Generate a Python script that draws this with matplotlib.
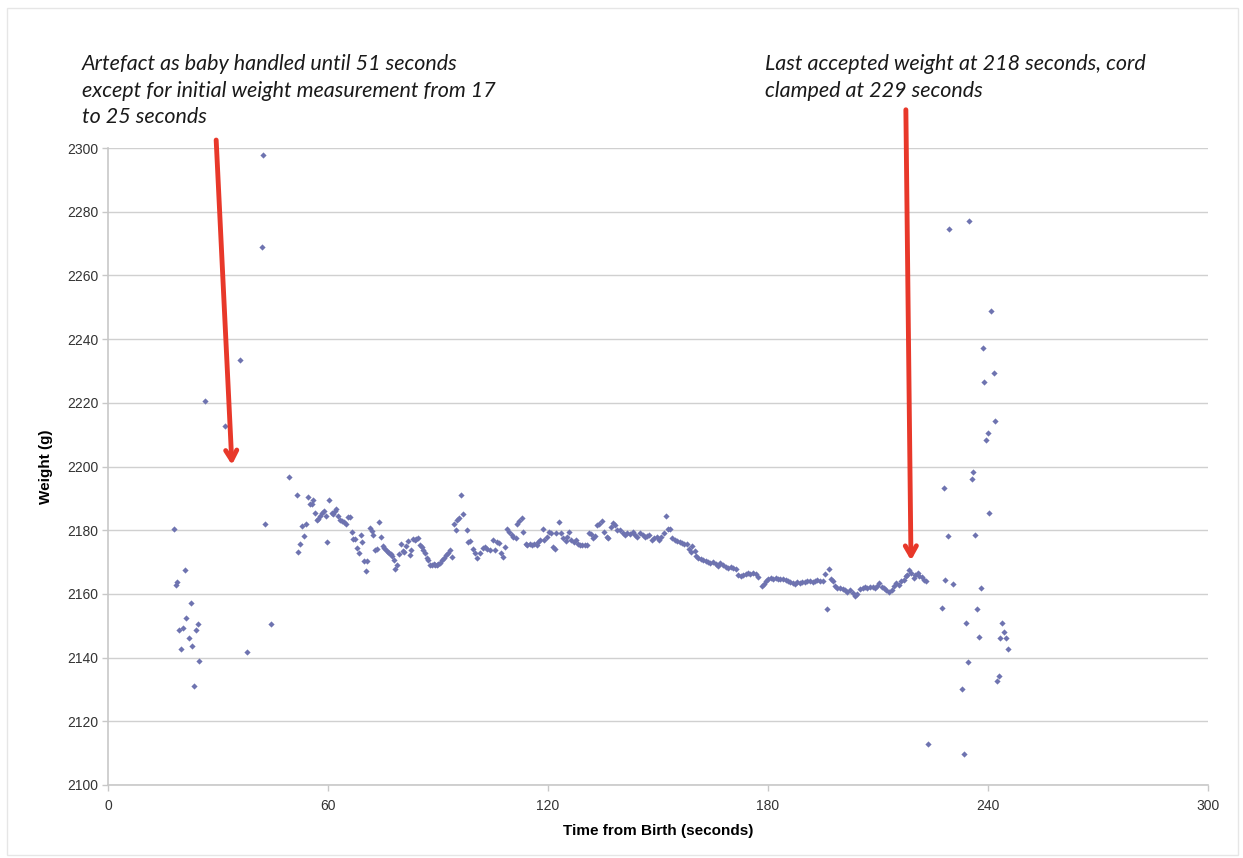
import matplotlib
matplotlib.use('Agg')
import matplotlib.pyplot as plt
from matplotlib.patches import Rectangle

# time from birth (s) and weight (g)

# initial weight measurement, 17-25 s
early_t = [18.0, 18.5, 18.9, 19.4, 19.9, 20.4, 21.0, 21.4, 22.0, 22.5,
           23.0, 23.5, 23.9, 24.5, 24.9]
early_w = [2180.5, 2162.8, 2163.7, 2148.7, 2142.6, 2149.4, 2167.6, 2152.3, 2146.1, 2157.1,
           2143.7, 2131.0, 2148.7, 2150.6, 2138.8]

# handling artefact until 51 s
handled_t = [26.5, 32.0, 36.0, 37.9, 41.9, 42.4, 42.8, 44.4, 49.4]
handled_w = [2220.7, 2212.8, 2233.3, 2141.9, 2268.8, 2297.8, 2182.0, 2150.7, 2196.7]

# accepted weights, 51-223 s
band_t = [
    51.5, 51.9, 52.4, 53.0, 53.5, 54.0, 54.5, 55.2, 55.5, 55.9,
    56.4, 56.9, 57.4, 57.8, 58.3, 58.9, 59.4, 59.8, 60.4, 61.0,
    61.4, 61.9, 62.3, 62.8, 63.3, 63.7, 64.3, 64.8, 65.4, 65.9,
    66.5, 66.9, 67.4, 67.8, 68.4, 68.9, 69.4, 69.9, 70.3, 70.6,
    71.4, 71.9, 72.4, 72.8, 73.4, 73.9, 74.4, 74.9, 75.4, 75.8,
    76.3, 76.7, 77.2, 77.5, 78.0, 78.3, 78.8, 79.4, 79.9, 80.5,
    80.8, 81.4, 81.9, 82.4, 82.6, 83.2, 83.6, 84.1, 84.6, 85.1,
    85.6, 86.0, 86.4, 87.0, 87.4, 87.9, 88.3, 88.8, 89.2, 89.7,
    90.1, 90.6, 91.2, 91.7, 92.3, 92.8, 93.4, 93.9, 94.3, 94.8,
    95.3, 95.8, 96.3, 96.9, 97.8, 98.3, 98.7, 99.6, 100.1, 100.5,
    101.4, 102.2, 102.8, 103.4, 104.2, 104.9, 105.5, 106.2, 106.7, 107.2,
    107.8, 108.3, 108.9, 109.4, 110.1, 110.5, 111.2, 111.6, 112.2, 112.8,
    113.3, 113.9, 114.4, 115.1, 115.7, 116.3, 116.9, 117.4, 117.8, 118.5,
    119.0, 119.6, 120.3, 120.8, 121.4, 121.9, 122.3, 122.9, 123.5, 124.2,
    124.8, 125.3, 125.8, 126.4, 127.0, 127.6, 128.2, 128.7, 129.3, 130.0,
    130.5, 131.1, 131.7, 132.3, 132.8, 133.3, 133.9, 134.6, 135.3, 136.0,
    136.4, 137.1, 137.8, 138.3, 138.9, 139.6, 140.4, 141.0, 141.6, 142.3,
    143.1, 143.7, 144.4, 145.1, 145.8, 146.4, 147.1, 147.6, 148.3, 148.9,
    149.6, 150.2, 150.9, 151.5, 152.2, 152.8, 153.3, 153.9, 154.6, 155.2,
    155.9, 156.6, 157.2, 157.8, 158.5, 159.1,
    159.4, 160.1, 160.3, 161.0, 161.6, 162.3, 163.0, 163.7, 164.3, 165.1,
    165.8, 166.4, 167.0, 167.8, 168.5, 169.2, 169.8, 170.5, 171.2, 171.9,
    172.5, 173.2, 173.9, 174.6, 175.2, 176.0, 176.7, 177.4, 178.3, 178.9,
    179.4, 180.1, 180.7, 181.4, 182.2, 182.8, 183.4, 184.2, 184.9, 185.5,
    186.0, 186.7, 187.3, 187.9, 188.7, 189.4, 190.1, 190.7, 191.4, 192.2,
    192.8, 193.4, 194.2, 194.9, 195.5, 196.2, 196.7, 197.3, 197.8, 198.4,
    198.9, 199.6, 200.4, 201.0, 201.6, 202.3, 203.1, 203.7, 204.3, 205.1,
    205.8, 206.4, 207.1, 207.8, 208.5, 209.2, 209.8, 210.3, 211.0, 211.6,
    212.3, 213.0, 213.7, 214.3, 215.0, 215.8, 216.4, 217.0, 217.6, 217.9,
    218.4, 219.1, 219.7, 220.2, 220.8, 221.3, 221.9, 222.6, 223.1,
]
band_w = [
    2191.1, 2173.2, 2175.6, 2181.3, 2178.3, 2181.9, 2190.3, 2188.1, 2188.1, 2189.6,
    2185.5, 2183.1, 2183.5, 2184.4, 2185.5, 2186.0, 2184.5, 2176.2, 2189.6, 2185.5,
    2185.2, 2186.0, 2186.6, 2184.4, 2183.1, 2182.8, 2182.6, 2182.1, 2184.2, 2184.2,
    2179.4, 2177.2, 2177.2, 2174.5, 2172.9, 2178.6, 2176.3, 2170.4, 2167.2, 2170.4,
    2180.6, 2179.8, 2178.6, 2173.7, 2174.0, 2182.6, 2177.9, 2175.0, 2174.3, 2173.7,
    2173.2, 2172.8, 2172.5, 2172.0, 2170.6, 2167.8, 2169.1, 2172.5, 2175.6, 2173.6,
    2173.3, 2175.1, 2176.6, 2172.2, 2173.7, 2177.2, 2176.8, 2177.3, 2177.5, 2175.5,
    2174.8, 2173.7, 2172.7, 2171.4, 2170.8, 2169.2, 2169.2, 2169.5, 2169.2, 2169.0,
    2169.5, 2169.8, 2170.6, 2171.4, 2172.2, 2172.9, 2173.7, 2171.6, 2181.9, 2180.0,
    2183.3, 2183.7, 2190.9, 2185.0, 2180.0, 2176.4, 2176.6, 2174.2, 2172.9, 2171.4,
    2172.7, 2174.3, 2174.6, 2174.2, 2173.9, 2176.9, 2173.7, 2176.3, 2176.0, 2172.7,
    2171.6, 2174.8, 2180.5, 2179.5, 2178.4, 2177.9, 2177.4, 2182.1, 2182.9, 2183.7,
    2179.5, 2175.8, 2175.3, 2175.6, 2175.3, 2175.6, 2175.3, 2176.3, 2176.9, 2180.5,
    2176.9, 2177.9, 2179.5, 2179.0, 2174.8, 2174.2, 2179.0, 2182.6, 2179.0, 2177.4,
    2176.5, 2177.9, 2179.5, 2176.9, 2176.3, 2176.9, 2175.8, 2175.5, 2175.3, 2175.3,
    2175.3, 2179.2, 2178.7, 2177.4, 2178.1, 2181.6, 2181.9, 2182.9, 2179.5, 2177.9,
    2177.4, 2181.0, 2182.3, 2181.6, 2180.0, 2180.0, 2179.0, 2178.4, 2179.0, 2178.7,
    2179.5, 2178.4, 2177.9, 2179.0, 2178.4, 2177.9, 2178.1, 2178.4, 2176.9, 2177.4,
    2177.9, 2176.9, 2177.9, 2179.0, 2184.4, 2180.5, 2180.5, 2177.4, 2176.9, 2176.6,
    2176.3, 2176.0, 2175.8, 2175.6, 2174.2, 2173.2,
    2174.9, 2173.4, 2172.0, 2171.3, 2170.9, 2170.7, 2170.2, 2169.9, 2169.7, 2169.9,
    2169.5, 2168.8, 2169.7, 2169.2, 2168.6, 2168.1, 2168.6, 2168.1, 2167.8, 2166.0,
    2165.7, 2166.0, 2166.3, 2166.5, 2166.3, 2166.7, 2166.3, 2165.3, 2162.5, 2163.2,
    2163.9, 2164.6, 2164.9, 2164.8, 2164.9, 2164.8, 2164.6, 2164.6, 2164.4, 2164.2,
    2163.6, 2163.4, 2163.2, 2163.6, 2163.4, 2163.6, 2163.8, 2163.9, 2164.2, 2163.8,
    2164.2, 2164.4, 2164.2, 2163.9, 2166.3, 2155.2, 2167.8, 2164.6, 2163.9, 2162.5,
    2161.8, 2161.8, 2161.5, 2161.3, 2160.7, 2161.1, 2160.2, 2159.4, 2160.0, 2161.5,
    2161.8, 2162.3, 2161.8, 2162.1, 2162.3, 2161.8, 2162.5, 2163.4, 2162.3, 2161.8,
    2161.3, 2160.7, 2161.3, 2162.5, 2163.4, 2162.8, 2163.9, 2164.4, 2165.5, 2166.0,
    2167.6, 2166.5, 2164.9, 2166.0, 2166.5, 2165.7, 2165.3, 2164.4, 2163.9,
]

# after cord clamping
late_t = [223.5, 227.4, 227.9, 228.4, 229.0, 229.4, 230.5, 232.9, 233.5, 233.9,
          234.5, 234.9, 235.5, 235.8, 236.5, 236.9, 237.5, 238.0, 238.5, 239.0,
          239.4, 239.9, 240.4, 240.9, 241.5, 242.0, 242.4, 242.9, 243.4, 243.9,
          244.4, 245.0, 245.5]
late_w = [2112.9, 2155.6, 2193.4, 2164.4, 2178.2, 2274.6, 2163.1, 2130.1, 2109.8, 2151.0,
          2138.6, 2277.1, 2196.1, 2198.2, 2178.6, 2155.2, 2146.5, 2161.7, 2237.2, 2226.6,
          2208.2, 2210.4, 2185.3, 2248.9, 2229.5, 2214.4, 2132.8, 2134.3, 2146.1, 2151.0,
          2148.1, 2146.1, 2142.7]

x_ticks = [0, 60, 120, 180, 240, 300]
y_ticks = [2100, 2120, 2140, 2160, 2180, 2200, 2220, 2240, 2260, 2280, 2300]

note_left = ('Artefact as baby handled until 51 seconds\n'
             'except for initial weight measurement from 17\n'
             'to 25 seconds')
note_right = ('Last accepted weight at 218 seconds, cord\n'
              'clamped at 229 seconds')

# arrows: (tail, tip) in data units
arrow_left = ((29.5, 2302.5), (33.8, 2200.5))
arrow_right = ((217.6, 2312.0), (219.0, 2170.5))

plt.rcParams['font.family'] = ['Liberation Sans', 'DejaVu Sans']

fig = plt.figure(figsize=(12.43, 8.58), dpi=100)
fig.patches.append(Rectangle((0.006, 0.004), 0.99, 0.987, transform=fig.transFigure,
                             fill=False, edgecolor='#e6e6e6', linewidth=1))
ax = fig.add_axes([108 / 1243, 1 - 785 / 858, 1100 / 1243, 637 / 858])

dot = dict(marker='D', s=10, color='#6e73b0', linewidths=0, zorder=3)
all_t = early_t + handled_t + band_t + late_t
all_w = early_w + handled_w + band_w + late_w
ax.scatter(all_t, all_w, **dot)

ax.set_xlim(0, 300)
ax.set_ylim(2100, 2300)
ax.set_xticks(x_ticks)
ax.set_yticks(y_ticks)
ax.tick_params(axis='both', labelsize=10, colors='#333333', length=4, width=1)
ax.tick_params(axis='x', color='#c8c8c8', pad=6)
ax.tick_params(axis='y', color='#c8c8c8', pad=3)
ax.grid(True, axis='y', color='#d0d0d0', linewidth=1)
ax.set_axisbelow(True)
for side in ['top', 'right']:
    ax.spines[side].set_visible(False)
for side in ['left', 'bottom']:
    ax.spines[side].set_color('#c8c8c8')
    ax.spines[side].set_linewidth(1.2)

ax.set_xlabel('Time from Birth (seconds)', fontsize=11, fontweight='bold', labelpad=8)
ax.set_ylabel('Weight (g)', fontsize=11, fontweight='bold', labelpad=10)

note_font = dict(family=['Lato', 'DejaVu Sans'], style='italic', fontsize=15.5,
                 color='#1a1a1a', linespacing=1.42, va='top', ha='left')
fig.text(82 / 1243, 1 - 54 / 858, note_left, **note_font)
fig.text(765 / 1243, 1 - 54 / 858, note_right, **note_font)

for tail, tip in [arrow_left, arrow_right]:
    ax.annotate('', xy=tip, xytext=tail, xycoords='data', textcoords='data',
                annotation_clip=False,
                arrowprops=dict(arrowstyle='->,head_length=0.7,head_width=0.4',
                                color='#e8382a', lw=3.5, shrinkA=0, shrinkB=0))

fig.savefig('out.png', dpi=100)
